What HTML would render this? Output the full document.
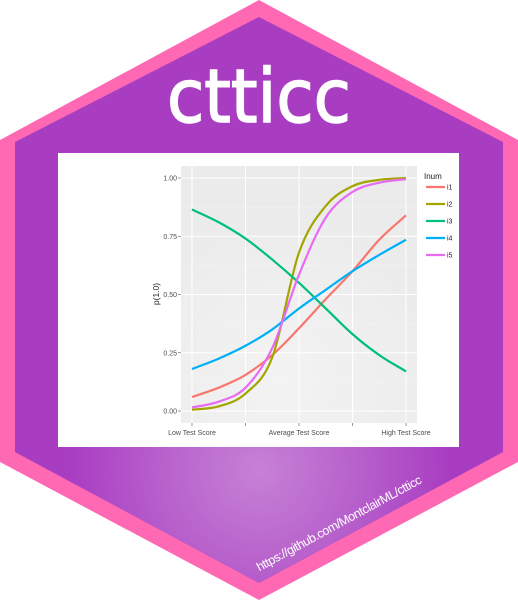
<!DOCTYPE html>
<html><head><meta charset="utf-8"><style>
html,body{margin:0;padding:0;background:#fff;width:518px;height:600px;overflow:hidden}
svg{display:block}
</style></head><body>
<svg width="518" height="600" viewBox="0 0 518 600">
<defs>
<radialGradient id="glow" cx="259" cy="470" r="190" gradientUnits="userSpaceOnUse">
<stop offset="0" stop-color="#c681d6"/><stop offset="0.5" stop-color="#b862cc"/><stop offset="1" stop-color="#a93dc2"/>
</radialGradient>
<radialGradient id="panelbg" cx="280" cy="380" r="180" gradientUnits="userSpaceOnUse">
<stop offset="0" stop-color="#f3f3f3"/><stop offset="1" stop-color="#ebebeb"/>
</radialGradient>
</defs>
<polygon points="259,0 518,140 518,462 259,600 0,462 0,140" fill="#ff69b4"/>
<polygon points="259,17 503,142 503,452 259,583 15,452 15,142" fill="#a93dc2"/>
<polygon points="15,447 503,447 503,452 259,583 15,452" fill="url(#glow)"/>
<text x="259" y="122" text-anchor="middle" font-family="DejaVu Sans, sans-serif" font-size="74" textLength="184" lengthAdjust="spacingAndGlyphs" fill="#fff" stroke="#fff" stroke-width="1.6">ctticc</text>
<text x="0" y="0" transform="translate(341,527) rotate(-28.6)" text-anchor="middle" font-family="Liberation Sans, sans-serif" font-size="12.5" textLength="186" fill="#fff">https://github.com/MontclairML/ctticc</text>
<rect x="58" y="153" width="401" height="294" fill="#fff"/>
<g id="chart"></g>
</svg>
<script>
const categories = ["Low Test Score", "", "Average Test Score", "", "High Test Score"];
const yTicks = [0, 0.25, 0.5, 0.75, 1.0];
const yTickLabels = ["0.00", "0.25", "0.50", "0.75", "1.00"];
const seriesNames = ["i1", "i2", "i3", "i4", "i5"];
const seriesColors = ["#f8766d", "#a3a500", "#00bf7d", "#00b0f6", "#e76bf3"];
const i1 = [0.06, 0.10, 0.155, 0.24, 0.355, 0.48, 0.60, 0.735, 0.84];
const i2 = [0.005, 0.02, 0.075, 0.23, 0.68, 0.88, 0.965, 0.992, 1.0];
const i3 = [0.865, 0.81, 0.74, 0.65, 0.55, 0.44, 0.33, 0.24, 0.17];
const i4 = [0.18, 0.225, 0.28, 0.35, 0.44, 0.52, 0.60, 0.67, 0.735];
const i5 = [0.015, 0.04, 0.10, 0.27, 0.585, 0.83, 0.94, 0.98, 0.995];
const seriesValues = [i1, i2, i3, i4, i5];

const NS = "http://www.w3.org/2000/svg";
const g = document.getElementById("chart");
const P = {x0:181, x1:417, y0:166, y1:423};
const xs = t => 192 + (406-192) * t;
const ys = v => 411 - (411-178) * v;
function mk(tag, attrs, parent){ const e=document.createElementNS(NS,tag); for(const k in attrs) e.setAttribute(k,attrs[k]); (parent||g).appendChild(e); return e; }

const panel = mk("rect",{x:P.x0,y:P.y0,width:P.x1-P.x0,height:P.y1-P.y0,fill:"url(#panelbg)"});



yTicks.slice(0,-1).forEach((v,i)=>{
  const yy = ys((v+yTicks[i+1])/2);
  const l = mk("line",{x1:P.x0,x2:P.x1,y1:yy,y2:yy,stroke:"#f5f5f5","stroke-width":0.6});
  
  
});
yTicks.forEach((v,i)=>{
  const yy = ys(v);
  const l = mk("line",{x1:P.x0,x2:P.x1,y1:yy,y2:yy,stroke:"#fff","stroke-width":1});
  
  
  const tk = mk("line",{x1:P.x0-3,x2:P.x0,y1:yy,y2:yy,stroke:"#555","stroke-width":0.6});
  
  
  const t = mk("text",{x:P.x0-4,y:yy+2.5,"text-anchor":"end","font-family":"Liberation Sans, sans-serif","font-size":7,fill:"#4d4d4d"});
  t.textContent = yTickLabels[i];
  
  
});
categories.forEach((c,i)=>{
  const xx = xs(i/(categories.length-1));
  const l = mk("line",{x1:xx,x2:xx,y1:P.y0,y2:P.y1,stroke:"#fff","stroke-width":1});
  
  
  const tk = mk("line",{x1:xx,x2:xx,y1:P.y1,y2:P.y1+3,stroke:"#555","stroke-width":0.6});
  
  
  if(c){
    const t = mk("text",{x:xx,y:P.y1+12,"text-anchor":"middle","font-family":"Liberation Sans, sans-serif","font-size":7,fill:"#4d4d4d"});
    t.textContent = c;
    
    
  }
});
const yt = mk("text",{x:0,y:0,transform:"translate(159,294) rotate(-90)","text-anchor":"middle","font-family":"Liberation Sans, sans-serif","font-size":8.5,fill:"#222"});
yt.textContent = "p(1.0)";



function monoPath(pts){
  const n=pts.length, d=[], m=[];
  for(let i=0;i<n-1;i++) d.push((pts[i+1][1]-pts[i][1])/(pts[i+1][0]-pts[i][0]));
  m[0]=d[0]; m[n-1]=d[n-2];
  for(let i=1;i<n-1;i++) m[i]=(d[i-1]*d[i]<=0)?0:(d[i-1]+d[i])/2;
  for(let i=0;i<n-1;i++){
    if(d[i]===0){m[i]=0;m[i+1]=0;continue;}
    const a=m[i]/d[i], b=m[i+1]/d[i], s=a*a+b*b;
    if(s>9){const t=3/Math.sqrt(s); m[i]=t*a*d[i]; m[i+1]=t*b*d[i];}
  }
  let path="M"+pts[0][0]+","+pts[0][1];
  for(let i=0;i<n-1;i++){
    const h=(pts[i+1][0]-pts[i][0])/3;
    path+=" C"+(pts[i][0]+h)+","+(pts[i][1]+m[i]*h)+" "+(pts[i+1][0]-h)+","+(pts[i+1][1]-m[i+1]*h)+" "+pts[i+1][0]+","+pts[i+1][1];
  }
  return path;
}
seriesValues.forEach((vals,si)=>{
  const pts = vals.map((v,i)=>[xs(i/(vals.length-1)), ys(v)]);
  const p = mk("path",{d:monoPath(pts),fill:"none",stroke:seriesColors[si],"stroke-width":2.2});
  
  
});

const lt = mk("text",{x:424,y:179,"font-family":"Liberation Sans, sans-serif","font-size":8,fill:"#222"});
lt.textContent = "Inum";


seriesNames.forEach((n,i)=>{
  const yy = 187 + i*17;
  const l = mk("line",{x1:426,x2:445,y1:yy,y2:yy,stroke:seriesColors[i],"stroke-width":2.2});
  
  
  const t = mk("text",{x:447,y:yy+2.5,"font-family":"Liberation Sans, sans-serif","font-size":7,fill:"#222"});
  t.textContent = n;
  
  
});
</script>
</body></html>
